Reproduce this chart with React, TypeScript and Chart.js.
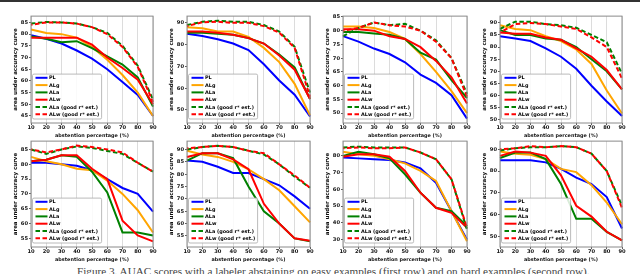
import React, { useEffect, useRef } from 'react';
import { Chart, registerables } from 'chart.js';
Chart.register(...registerables);

// ---------- data ----------
const abstention = ['10', '20', '30', '40', '50', '60', '70', '80', '90'];
const seriesNames = ['PL', 'ALg', 'ALa', 'ALw', 'ALa (good r* est.)', 'ALw (good r* est.)'];
const seriesColors = ['#0000ff', '#ffa500', '#008000', '#ff0000', '#008000', '#ff0000'];

// first row: labeler abstaining on easy examples
const a1PL = [79.5, 78, 76, 73, 69.5, 65, 59.5, 54, 45];
const a1ALg = [82, 80.5, 80, 78.5, 74.5, 69, 62.5, 55, 45];
const a1ALa = [79, 78, 76.5, 77, 74, 70.5, 67, 61.5, 49];
const a1ALw = [78.5, 78.5, 78.5, 78.5, 75.5, 70, 65.5, 60.5, 50];
const a1ALaG = [84.5, 85.2, 85, 84.5, 83, 80.5, 75, 66.5, 52];
const a1ALwG = [84, 85, 85, 84.5, 83, 80, 74.5, 66, 51];
const a1Ticks = [45, 50, 55, 60, 65, 70, 75, 80, 85];
const a1Range = [42, 87.7];

const a2PL = [85, 84, 82.5, 80.5, 77.5, 71, 63.5, 57, 47];
const a2ALg = [88, 87.5, 86, 86, 83.5, 78.5, 72, 62, 47.5];
const a2ALa = [85.5, 85.5, 85, 84.5, 83, 80.5, 75.5, 69.5, 55];
const a2ALw = [86, 86, 85.5, 84.5, 83, 80.5, 75, 68.5, 55];
const a2ALaG = [89, 90.5, 91, 90.5, 90.5, 89, 86, 79, 58];
const a2ALwG = [88.5, 90.3, 90.5, 90, 90, 88.5, 85.5, 78.5, 56];
const a2Ticks = [50, 60, 70, 80, 90];
const a2Range = [44, 93.1];

const a3PL = [78, 76, 73.5, 71.5, 68.5, 64, 61, 56.5, 48];
const a3ALg = [81.5, 81.5, 81, 79.5, 77, 71.5, 65, 58, 50];
const a3ALa = [79.5, 79.5, 79, 78.5, 77, 72, 69.5, 62, 55.5];
const a3ALw = [80.5, 80.5, 80, 78, 77, 74, 69, 63, 53.5];
const a3ALaG = [78, 81, 83, 82, 82.5, 80, 76.5, 70, 57];
const a3ALwG = [80, 81, 83, 82, 81.5, 80, 76, 70, 56];
const a3Ticks = [50, 55, 60, 65, 70, 75, 80, 85];
const a3Range = [46.4, 85.3];

const a4PL = [84.5, 83.5, 82.5, 79.5, 76, 71, 64, 57.5, 51.5];
const a4ALg = [89, 87.5, 87, 84.5, 82.5, 79, 73, 62, 52.5];
const a4ALa = [87, 85, 85, 83.5, 83, 80, 75, 70, 62.5];
const a4ALw = [86, 85.5, 85.5, 84, 83, 79.5, 76, 70.5, 62.5];
const a4ALaG = [87.5, 90.5, 90.5, 89.5, 89, 88, 85, 82, 69];
const a4ALwG = [86, 89.5, 90, 89.5, 88.5, 87.5, 84, 80, 67];
const a4Ticks = [50, 55, 60, 65, 70, 75, 80, 85, 90];
const a4Range = [48.6, 92.8];

// second row: labeler abstaining on hard examples
const b1PL = [80.5, 80.5, 80, 79.5, 78, 75, 72, 70, 64];
const b1ALg = [82.5, 81, 80, 78.5, 78, 74.5, 70, 64.5, 57];
const b1ALa = [81, 81.5, 83, 82.5, 77.5, 70.5, 57, 57, 56];
const b1ALw = [81, 81.5, 83, 83, 78.5, 75, 61, 56, 54];
const b1ALaG = [85, 83.5, 85, 86, 85.5, 84.5, 83.5, 80.5, 77.5];
const b1ALwG = [85, 84, 85, 86.3, 85.8, 85, 84, 80.5, 77.5];
const b1Ticks = [55, 60, 65, 70, 75, 80, 85];
const b1Range = [52.1, 87.8];

const b2PL = [85.5, 85, 83, 80.5, 80.5, 78, 75.5, 71, 66];
const b2ALg = [89.5, 88, 87, 85, 82, 78, 73.5, 67, 60.5];
const b2ALa = [85.5, 88.5, 88.5, 86.5, 75, 65, 60, 54, 52.8];
const b2ALw = [87, 88.5, 88.5, 86, 82, 68, 60, 54, 53];
const b2ALaG = [90, 91, 91.5, 91, 89.5, 88, 84, 79, 74.5];
const b2ALwG = [90.5, 91, 91.5, 91, 89.5, 88.5, 84, 79.5, 74.5];
const b2Ticks = [55, 60, 65, 70, 75, 80, 85, 90];
const b2Range = [50.5, 93.4];

const b3PL = [79, 78.5, 78, 77.5, 76, 72.5, 64, 47, 30];
const b3ALg = [82.5, 81, 80, 78, 75.5, 71, 65, 47, 29];
const b3ALa = [80, 82.5, 81, 78.5, 69, 58, 49, 47, 38];
const b3ALw = [79.5, 81, 81, 79.5, 71, 58, 49, 46, 37];
const b3ALaG = [85, 85.5, 85, 85, 85, 82, 78, 66, 36];
const b3ALwG = [84.5, 85, 84.5, 84.5, 85, 82, 78, 66, 37];
const b3Ticks = [30, 40, 50, 60, 70, 80];
const b3Range = [25.6, 88.8];

const b4PL = [85, 85, 85, 84, 81, 77, 74, 68, 53.5];
const b4ALg = [89, 88, 87.5, 85.5, 81, 79.5, 73.5, 65.5, 55.5];
const b4ALa = [86, 88.5, 88.5, 85.5, 74, 58, 58, 52, 48];
const b4ALw = [87, 89, 88.5, 87, 78, 64, 59, 52, 48];
const b4ALaG = [89.5, 90.5, 91, 91, 91.5, 91, 88, 80, 64];
const b4ALwG = [90, 90.5, 91.5, 91, 91.5, 91, 88, 80, 63];
const b4Ticks = [50, 60, 70, 80, 90];
const b4Range = [45, 93.8];

const captionText =
  'Figure 3. AUAC scores with a labeler abstaining on easy examples (first row) and on hard examples (second row).';

// ---------- layout ----------
const FONT = '"DejaVu Sans", sans-serif';
const Y_AXIS_W = 31;
const X_AXIS_H = 16;
const PAD_TOP = 4;
const PAD_RIGHT = 6;

const panels = [
  { series: [a1PL, a1ALg, a1ALa, a1ALw, a1ALaG, a1ALwG], ticks: a1Ticks, range: a1Range, left: 31, top: 16, w: 122, h: 107 },
  { series: [a2PL, a2ALg, a2ALa, a2ALw, a2ALaG, a2ALwG], ticks: a2Ticks, range: a2Range, left: 187, top: 16, w: 123, h: 107 },
  { series: [a3PL, a3ALg, a3ALa, a3ALw, a3ALaG, a3ALwG], ticks: a3Ticks, range: a3Range, left: 343, top: 16, w: 124, h: 107 },
  { series: [a4PL, a4ALg, a4ALa, a4ALw, a4ALaG, a4ALwG], ticks: a4Ticks, range: a4Range, left: 500, top: 16, w: 122, h: 107 },
  { series: [b1PL, b1ALg, b1ALa, b1ALw, b1ALaG, b1ALwG], ticks: b1Ticks, range: b1Range, left: 31, top: 141, w: 122, h: 106 },
  { series: [b2PL, b2ALg, b2ALa, b2ALw, b2ALaG, b2ALwG], ticks: b2Ticks, range: b2Range, left: 187, top: 141, w: 123, h: 106 },
  { series: [b3PL, b3ALg, b3ALa, b3ALw, b3ALaG, b3ALwG], ticks: b3Ticks, range: b3Range, left: 343, top: 141, w: 124, h: 106 },
  { series: [b4PL, b4ALg, b4ALa, b4ALw, b4ALaG, b4ALwG], ticks: b4Ticks, range: b4Range, left: 500, top: 141, w: 122, h: 106 },
];

const framePlugin = {
  id: 'frame',
  afterDatasetsDraw(chart: any) {
    const { ctx, chartArea } = chart;
    ctx.save();
    ctx.strokeStyle = '#8a8a8a';
    ctx.lineWidth = 1;
    ctx.strokeRect(chartArea.left, chartArea.top, chartArea.right - chartArea.left, chartArea.bottom - chartArea.top);
    ctx.restore();
  },
};

const legendPlugin = {
  id: 'boxLegend',
  afterDraw(chart: any) {
    const { ctx, chartArea } = chart;
    const ds = chart.data.datasets;
    ctx.save();
    ctx.font = `bold 4.9px ${FONT}`;
    const rowH = 7.3;
    const textW = Math.max(...ds.map((d: any) => ctx.measureText(d.label).width));
    const boxW = 16.5 + textW + 2.5;
    const boxH = 3.7 + rowH * (ds.length - 1) + 4.7;
    const x0 = chartArea.left + 1.5;
    const y0 = chartArea.bottom - 4 - boxH;
    ctx.beginPath();
    ctx.roundRect(x0, y0, boxW, boxH, 1.5);
    ctx.fillStyle = 'rgba(255,255,255,0.85)';
    ctx.fill();
    ctx.lineWidth = 0.8;
    ctx.strokeStyle = '#a8a8a8';
    ctx.stroke();
    ds.forEach((d: any, i: number) => {
      const cy = y0 + 3.7 + i * rowH;
      ctx.beginPath();
      ctx.setLineDash(d.borderDash || []);
      ctx.lineDashOffset = 0;
      ctx.strokeStyle = d.borderColor;
      ctx.lineWidth = 2;
      ctx.moveTo(x0 + 3, cy);
      ctx.lineTo(x0 + 15, cy);
      ctx.stroke();
      ctx.setLineDash([]);
      ctx.fillStyle = '#000';
      ctx.textBaseline = 'middle';
      ctx.textAlign = 'left';
      ctx.fillText(d.label, x0 + 16.5, cy + 0.3);
    });
    ctx.restore();
  },
};

function Panel({ cfg }: { cfg: any }) {
  const ref = useRef<HTMLCanvasElement>(null);
  const W = Y_AXIS_W + cfg.w + PAD_RIGHT;
  const H = PAD_TOP + cfg.h + X_AXIS_H;
  useEffect(() => {
    const datasets = cfg.series.map((vals: number[], i: number) => ({
      label: seriesNames[i],
      data: vals,
      borderColor: seriesColors[i],
      backgroundColor: seriesColors[i],
      borderWidth: 2,
      borderDash: i >= 4 ? [4.5, 2.5] : [],
      borderDashOffset: i === 5 ? 3 : 0,
      pointRadius: 0,
      tension: 0,
      fill: false,
      order: 5 - i,
    }));
    const tickFont = { size: 5.2, weight: 'bold' as const, family: FONT };
    const chart = new Chart(ref.current!, {
      type: 'line',
      data: { labels: abstention, datasets },
      options: {
        animation: false,
        responsive: false,
        devicePixelRatio: 1,
        layout: { padding: { top: PAD_TOP, right: PAD_RIGHT, left: 0, bottom: 0 } },
        plugins: { legend: { display: false }, tooltip: { enabled: false } },
        scales: {
          x: {
            type: 'category',
            offset: false,
            grid: { color: '#dcdcdc', lineWidth: 1, drawTicks: true, tickLength: 2, tickColor: '#333', tickWidth: 0.8 },
            border: { display: false },
            ticks: { font: tickFont, color: '#111', padding: 0, autoSkip: false, maxRotation: 0 },
            title: { display: true, text: 'abstention percentage (%)', font: { size: 4.9, weight: 'bold', family: FONT }, color: '#111', padding: { top: 0, bottom: 0 } },
            afterFit: (s: any) => { s.height = X_AXIS_H; },
          },
          y: {
            min: cfg.range[0],
            max: cfg.range[1],
            grid: { display: true, drawOnChartArea: false, drawTicks: true, tickLength: 2, tickColor: '#333', tickWidth: 0.8 },
            border: { display: false },
            ticks: { font: tickFont, color: '#111', padding: 1 },
            afterBuildTicks: (s: any) => { s.ticks = cfg.ticks.map((v: number) => ({ value: v })); },
            title: { display: true, text: 'area under accuracy curve', font: { size: 5.5, weight: 'bold', family: FONT }, color: '#111', padding: { top: 12, bottom: 0 } },
            afterFit: (s: any) => { s.width = Y_AXIS_W; },
          },
        },
      },
      plugins: [framePlugin, legendPlugin],
    });
    return () => chart.destroy();
  }, []);
  return (
    <canvas
      ref={ref}
      width={W}
      height={H}
      style={{ position: 'absolute', left: cfg.left - Y_AXIS_W, top: cfg.top - PAD_TOP, width: W, height: H }}
    />
  );
}

export default function App() {
  return (
    <div style={{ position: 'absolute', left: 0, top: 0, width: 640, height: 274, background: '#fff', overflow: 'hidden' }}>
      <div style={{ position: 'absolute', left: 0, top: 0, width: 640, height: 2, background: '#333' }} />
      {panels.map((p, i) => (
        <Panel key={i} cfg={p} />
      ))}
      <div
        style={{
          position: 'absolute',
          left: 77,
          top: 265,
          whiteSpace: 'nowrap',
          fontFamily: '"Liberation Serif", "Times New Roman", serif',
          fontSize: 11.2,
          lineHeight: '12px',
          color: '#444',
        }}
      >
        {captionText}
      </div>
    </div>
  );
}
